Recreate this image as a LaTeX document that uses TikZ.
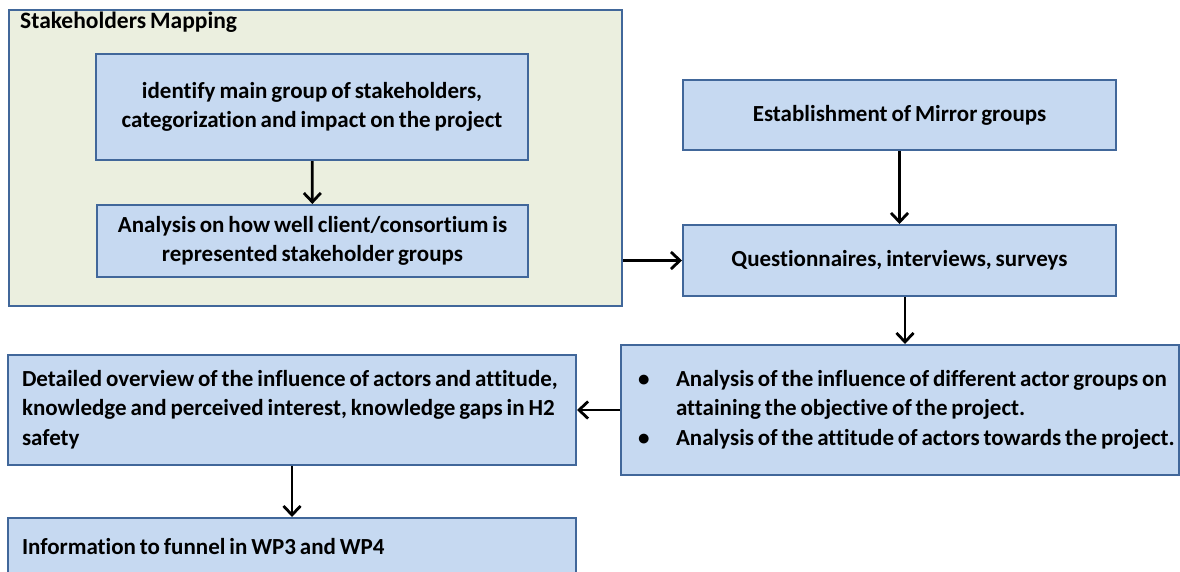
\documentclass[tikz,border=0pt]{standalone}
\usepackage{fontspec}
\setmainfont{Carlito}[Ligatures=NoCommon,WordSpace=0.75]
\usetikzlibrary{arrows.meta}
\definecolor{boxblue}{HTML}{C6D9F1}
\definecolor{edgeblue}{HTML}{41679A}
\definecolor{groupgreen}{HTML}{EBEFDF}

\begin{document}
\begin{tikzpicture}[x=1pt,y=-1pt,
		box/.style={draw=edgeblue,fill=boxblue,line width=2pt,inner sep=0pt,font=\fontsize{23}{29.5}\selectfont\bfseries},
		arr/.style={-{Straight Barb[length=9pt,width=17pt]},line width=2.8pt}]
		
		\useasboundingbox (0,0) rectangle (1180,571);
		\clip (0,0) rectangle (1180,571);
		
		% stakeholders mapping group
		\node (grp) at (315.5,158) [draw=edgeblue,fill=groupgreen,line width=2pt,minimum width=613pt,minimum height=296pt] {};
		\node (ttl) at (20,22) [anchor=west,inner sep=0pt,font=\fontsize{23.5}{28}\selectfont\bfseries] {Stakeholders Mapping};
		\node (idf) at (312,107) [box,minimum width=432pt,minimum height=106pt,align=center] {identify main group of stakeholders,\\categorization and impact on the project};
		\node (ana) at (312.5,241) [box,minimum width=431pt,minimum height=72pt,align=center] {Analysis on how well client/consortium is\\represented stakeholder groups};
		
		% right column
		\node (mir) at (899.5,115) [box,minimum width=433pt,minimum height=70pt] {Establishment of Mirror groups};
		\node (qst) at (899.5,260.5) [box,minimum width=433pt,minimum height=71pt] {Questionnaires, interviews, surveys};
		\node (inf) at (900,410) [box,inner xsep=17pt,minimum height=130pt] {\makebox[524pt][l]{%
			\begin{tabular}{@{}p{38pt}@{}l@{}}
				\textbullet & Analysis of the influence of different actor groups on\\
				& attaining the objective of the project.\\
				\textbullet & Analysis of the attitude of actors towards the project.
			\end{tabular}}};
		
		% left column
		\node (ovr) at (292,410) [box,inner xsep=14pt,minimum height=110pt] {\makebox[540pt][l]{%
			\begin{tabular}{@{}l@{}}
				Detailed overview of the influence of actors and attitude,\\
				knowledge and perceived interest, knowledge gaps in H2\\
				safety
			\end{tabular}}};
		\node (fun) at (292,547) [box,inner xsep=14pt,minimum height=58pt] {\makebox[540pt][l]{Information to funnel in WP3 and WP4}};
		
		\draw[arr] (idf) -- (ana);
		\draw[arr] (mir) -- (qst);
		\draw[arr] (grp.east |- qst) -- (qst);
		\draw[arr] (qst.south -| 905,0) -- (inf.north -| 905,0);
		\draw[arr] (inf) -- (ovr);
		\draw[arr] (ovr) -- (fun);
		
	\end{tikzpicture}
\end{document}
